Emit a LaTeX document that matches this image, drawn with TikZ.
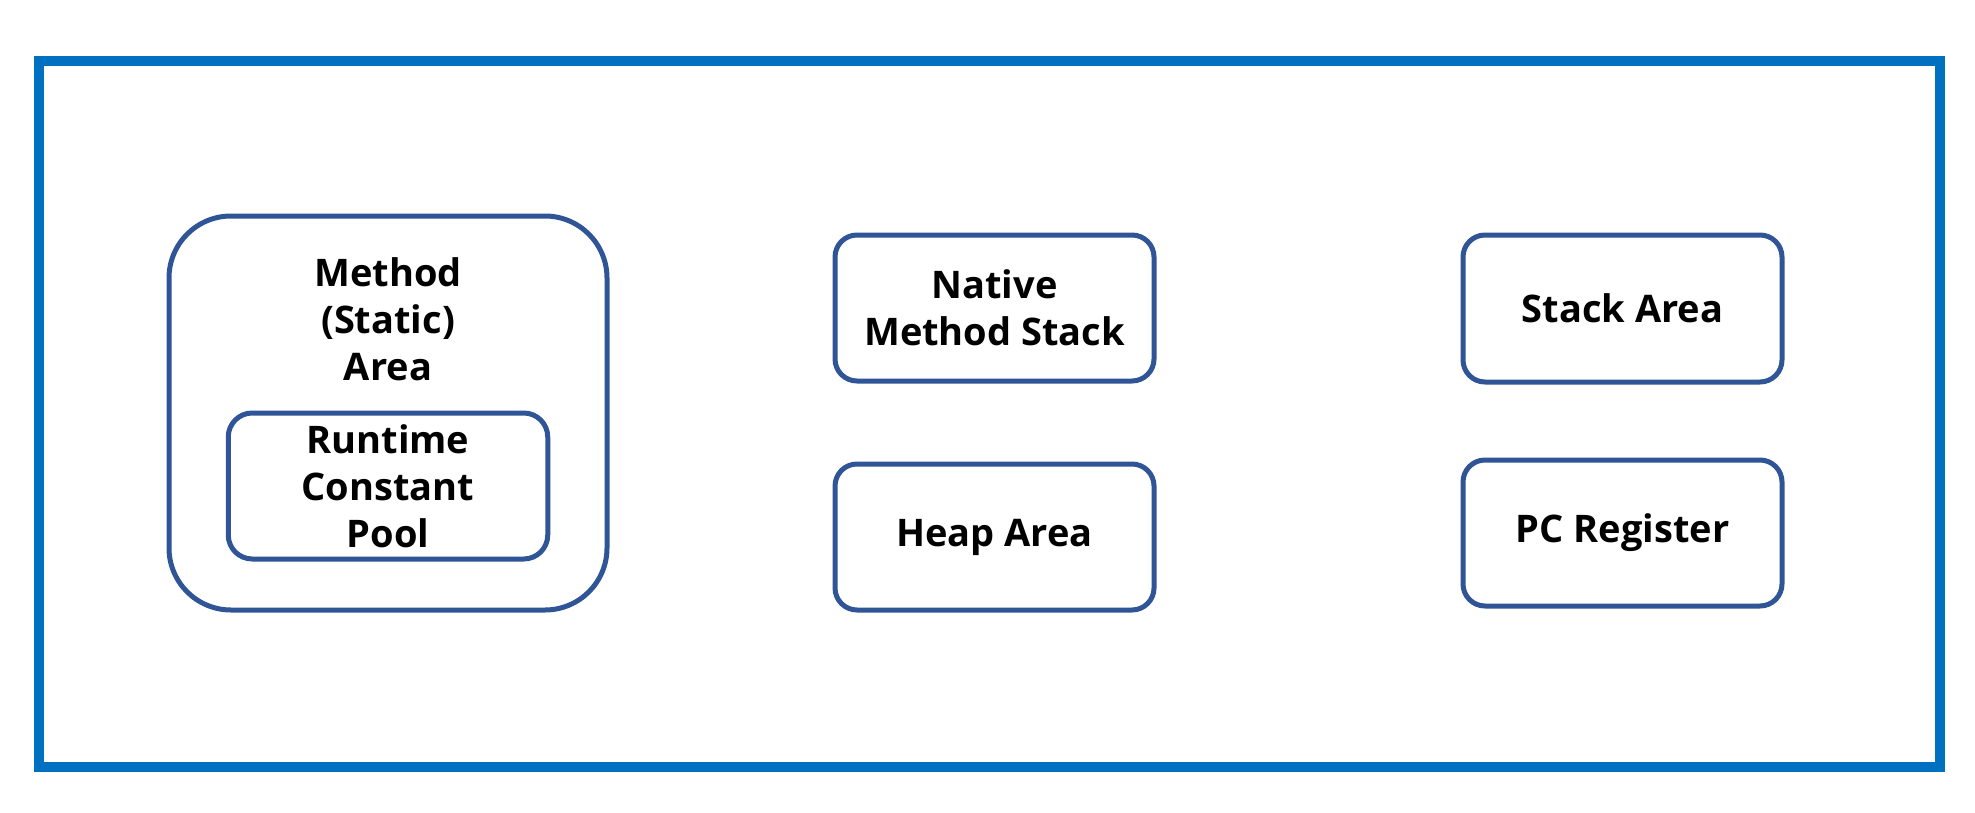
\documentclass[tikz,border=0pt]{standalone}
\usepackage{fontspec}
\setmainfont{Open Sans}
\definecolor{outerblue}{HTML}{0070C0}
\definecolor{boxblue}{HTML}{2F5597}
\begin{document}
\begin{tikzpicture}[x=0.5pt,y=-0.5pt,
  area/.style={draw=boxblue, line width=2.5pt, rounded corners=11pt, fill=white,
    minimum width=159.5pt, minimum height=73pt, inner sep=0pt, align=center,
    font=\fontsize{19}{23.5}\selectfont\bfseries},
  lbl/.style={inner sep=0pt, align=center, font=\fontsize{19}{23.5}\selectfont\bfseries}]
\useasboundingbox (0,0) rectangle (1975,813);
\draw[outerblue, line width=4.7pt] (39,61) rectangle (1940,767);
\node[area, minimum width=219pt, minimum height=197pt, rounded corners=31pt] (method) at (388,413) {};
\node[lbl] (methodlbl) at (388,319) {Method\\(Static)\\Area};
\node[area, minimum width=159.75pt, rounded corners=12pt] (pool) at (388,486) {Runtime\\Constant\\Pool};
\node[area] (native) at (994.5,308) {Native\\Method Stack};
\node[area] (heap) at (994.5,537) {Heap Area};
\node[area, minimum height=73.5pt] (stack) at (1622.5,308.5) {Stack Area};
\node[area] (pc) at (1622.5,533) {PC Register};
\end{tikzpicture}
\end{document}
